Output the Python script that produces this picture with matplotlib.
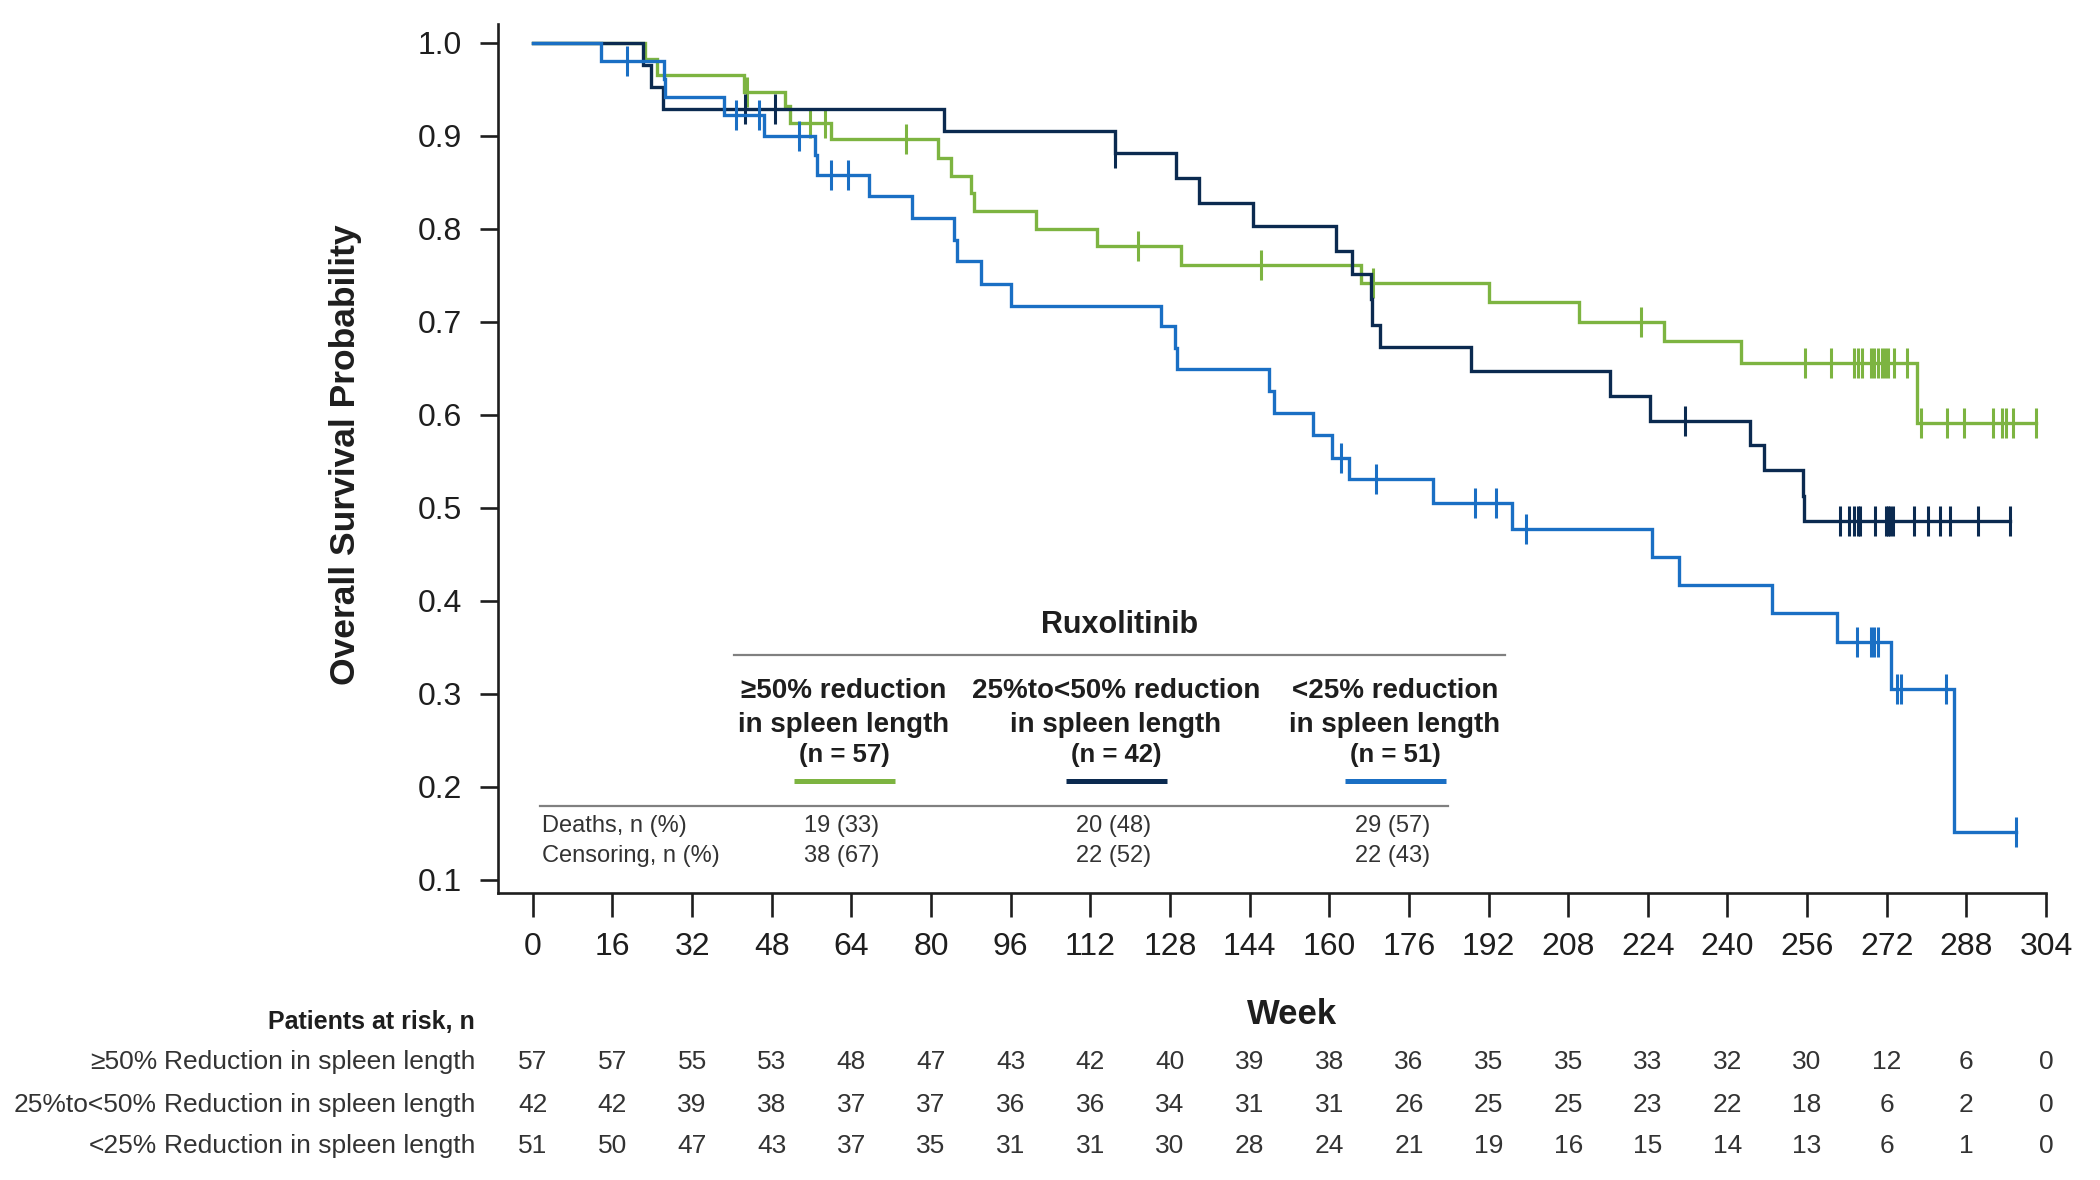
import numpy as np
import matplotlib
matplotlib.use("Agg")
from matplotlib import pyplot as plt
from matplotlib.lines import Line2D
from matplotlib import transforms

plt.rcParams['font.family'] = ['Liberation Sans', 'DejaVu Sans']

# Kaplan-Meier data (weeks, survival after each event)
green_times = [0, 22.5, 25.0, 42.4, 50.6, 51.6, 60.0, 81.4, 84.1, 88.1, 88.6, 101.1, 113.3,
               130.3, 166.4, 192.0, 210.1, 227.2, 242.7, 278.0]
green_surv = [1.0, 0.982, 0.965, 0.947, 0.932, 0.914, 0.896, 0.876, 0.857, 0.838, 0.819, 0.800,
              0.781, 0.761, 0.742, 0.721, 0.700, 0.679, 0.656, 0.591]
green_end = 302.0
green_cens = [43.0, 55.6, 58.6, 75.0, 121.5, 146.3, 168.8, 222.7, 255.6, 260.8, 265.5, 266.2,
              267.1, 268.8, 269.5, 270.2, 271.0, 271.6, 272.3, 273.4, 276.0, 278.9, 284.1,
              287.5, 293.4, 295.1, 295.9, 297.4, 302.0]

navy_times = [0, 22.2, 23.7, 26.2, 82.7, 116.9, 129.3, 133.8, 144.6, 161.4, 164.5, 168.4,
              168.6, 170.1, 188.5, 216.5, 224.4, 244.5, 247.3, 255.1, 255.4]
navy_surv = [1.0, 0.976, 0.952, 0.929, 0.905, 0.881, 0.854, 0.828, 0.803, 0.776, 0.751, 0.724,
             0.697, 0.673, 0.647, 0.620, 0.593, 0.567, 0.541, 0.513, 0.486]
navy_end = 296.7
navy_cens = [42.7, 48.7, 116.9, 231.5, 262.7, 264.4, 265.5, 266.2, 266.7, 269.6, 271.9, 272.3,
             272.6, 273.3, 277.5, 280.2, 282.7, 284.7, 290.3, 296.7]

blue_times = [0, 13.7, 26.3, 26.6, 38.5, 46.4, 56.6, 57.0, 67.5, 76.1, 84.7, 85.2, 90.1, 96.1,
              126.2, 129.1, 129.4, 147.8, 149.0, 156.7, 160.6, 163.9, 180.9, 196.7, 224.9,
              230.2, 248.9, 262.0, 272.8, 285.5]
blue_surv = [1.0, 0.980, 0.961, 0.942, 0.922, 0.900, 0.879, 0.858, 0.835, 0.812, 0.788, 0.765,
             0.741, 0.717, 0.695, 0.672, 0.649, 0.626, 0.602, 0.578, 0.554, 0.531, 0.505,
             0.477, 0.447, 0.417, 0.387, 0.356, 0.305, 0.152]
blue_end = 298.0
blue_cens = [19.0, 40.9, 45.4, 53.4, 59.9, 63.4, 162.4, 169.4, 189.2, 193.5, 199.6, 266.0,
             268.8, 269.5, 270.3, 274.0, 274.8, 284.0, 298.0]

# Patients at risk
risk_weeks = list(range(0, 305, 16))
risk_green = [57, 57, 55, 53, 48, 47, 43, 42, 40, 39, 38, 36, 35, 35, 33, 32, 30, 12, 6, 0]
risk_navy = [42, 42, 39, 38, 37, 37, 36, 36, 34, 31, 31, 26, 25, 25, 23, 22, 18, 6, 2, 0]
risk_blue = [51, 50, 47, 43, 37, 35, 31, 31, 30, 28, 24, 21, 19, 16, 15, 14, 13, 6, 1, 0]

groups = ['\u226550%', '25%to<50%', '<25%']
group_n = [57, 42, 51]
deaths = ['19 (33)', '20 (48)', '29 (57)']
censoring = ['38 (67)', '22 (52)', '22 (43)']

GREEN = '#7db441'
NAVY = '#0b2a50'
BLUE = '#1a6fc4'
INK = '#1e1e1e'

W, H = 2100, 1180
fx = lambda px: px / W
fy = lambda py: 1 - py / H

fig = plt.figure(figsize=(21, 11.8), dpi=100)
ax = fig.add_axes([fx(498), fy(893), fx(2046) - fx(498), fy(24) - fy(893)])

series = [(green_times, green_surv, green_end, green_cens, GREEN),
          (navy_times, navy_surv, navy_end, navy_cens, NAVY),
          (blue_times, blue_surv, blue_end, blue_cens, BLUE)]
for t, s, end, cens, col in series:
    tt = np.append(t, end)
    ss = np.append(s, s[-1])
    ax.step(tt, ss, where='post', color=col, lw=2.4, solid_joinstyle='miter')
    idx = np.searchsorted(t, cens, side='right') - 1
    ax.plot(cens, np.array(s)[idx], ls='none', marker='|', ms=21, mew=2.2, color=col)

ax.set_xlim(-7, 304)
ax.set_ylim(0.086, 1.02)
ax.set_xticks(risk_weeks)
ax.set_yticks(np.round(np.arange(0.1, 1.01, 0.1), 1))
ax.set_yticklabels([f'{v:.1f}' for v in np.arange(0.1, 1.01, 0.1)])
for side in ['top', 'right']:
    ax.spines[side].set_visible(False)
for side in ['left', 'bottom']:
    ax.spines[side].set_linewidth(1.9)
    ax.spines[side].set_color(INK)
ax.tick_params(axis='y', length=13, width=1.9, pad=13, labelsize=23, colors=INK)
ax.tick_params(axis='x', length=17, width=1.9, pad=11, labelsize=23, colors=INK)

fig.text(fx(346), fy(455), 'Overall Survival Probability', rotation=90, ha='center',
         va='center', fontsize=25.5, fontweight='bold', color=INK)
fig.text(fx(1292), fy(1014), 'Week', ha='center', va='center', fontsize=25,
         fontweight='bold', color=INK)

# Inner summary table
fig.text(fx(1120), fy(625), 'Ruxolitinib', ha='center', va='center', fontsize=22,
         fontweight='bold', color=INK)
fig.add_artist(Line2D([fx(734), fx(1505)], [fy(655)] * 2, color='#808080', lw=1.6))
col_x = [844, 1116, 1395]
line_cols = [GREEN, NAVY, BLUE]
for i, g in enumerate(groups):
    fig.text(fx(col_x[i]), fy(691), f'{g} reduction', ha='center', va='center',
             fontsize=20, fontweight='bold', color=INK)
    fig.text(fx(col_x[i]), fy(725), 'in spleen length', ha='center', va='center',
             fontsize=20, fontweight='bold', color=INK)
    fig.text(fx(col_x[i]), fy(755), f'(n = {group_n[i]})', ha='center', va='center',
             fontsize=18.5, fontweight='bold', color=INK)
    fig.add_artist(Line2D([fx(col_x[i] - 50), fx(col_x[i] + 51)], [fy(781)] * 2,
                          color=line_cols[i], lw=3.6, solid_capstyle='butt'))
    fig.text(fx(col_x[i] - 2), fy(826), deaths[i], ha='center', va='center',
             fontsize=17, color='#333333')
    fig.text(fx(col_x[i] - 2), fy(856), censoring[i], ha='center', va='center',
             fontsize=17, color='#333333')
fig.add_artist(Line2D([fx(540), fx(1448)], [fy(806)] * 2, color='#808080', lw=1.6))
fig.text(fx(542), fy(826), 'Deaths, n (%)', ha='left', va='center', fontsize=17,
         color='#333333')
fig.text(fx(542), fy(856), 'Censoring, n (%)', ha='left', va='center', fontsize=17,
         color='#333333')

# Patients at risk table
fig.text(fx(475), fy(1022), 'Patients at risk, n', ha='right', va='center', fontsize=18,
         fontweight='bold', color=INK)
trans = transforms.blended_transform_factory(ax.transData, fig.transFigure)
row_y = [1062, 1105, 1146]
for i, counts in enumerate([risk_green, risk_navy, risk_blue]):
    fig.text(fx(157), fy(row_y[i]), groups[i], ha='right', va='center', fontsize=19,
             color='#333333')
    fig.text(fx(475), fy(row_y[i]), 'Reduction in spleen length', ha='right', va='center',
             fontsize=19, color='#333333')
    for wk, c in zip(risk_weeks, counts):
        ax.text(wk, fy(row_y[i]), str(c), transform=trans, ha='center', va='center',
                fontsize=19, color='#333333', clip_on=False)

fig.savefig('out.png', dpi=100)
